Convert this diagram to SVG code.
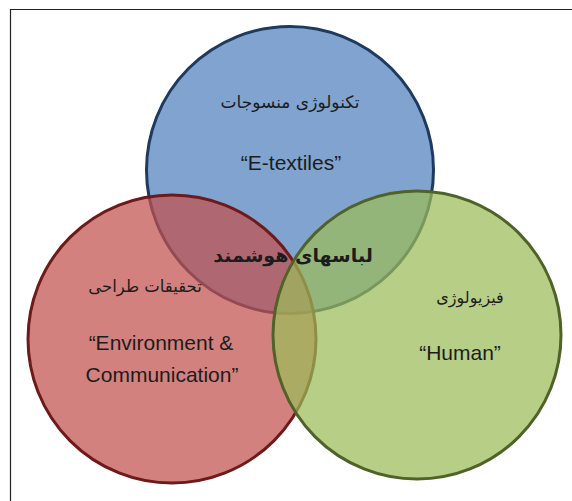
<svg xmlns="http://www.w3.org/2000/svg" width="572" height="501" viewBox="0 0 572 501">
<style>
.circ{fill-opacity:0.72;stroke-width:3}
.lat{font-family:"Liberation Sans","Open Sans",Arial,sans-serif;font-size:21px;fill:#1c1c1c;text-anchor:middle}
.fa{font-family:"DejaVu Sans","Noto Sans",sans-serif;font-size:17px;fill:#1c1c1c;text-anchor:middle}
</style>
<rect x="0" y="0" width="572" height="501" fill="#ffffff"/>
<path d="M10.5 501 V9.5 H572" fill="none" stroke="#222222" stroke-width="1.2"/>
<g id="node-etextiles">
<circle class="circ" cx="290" cy="170" r="143.5" fill="#4F81BD" stroke="#1F3A60"/>
</g>
<g id="node-environment">
<circle class="circ" cx="172" cy="339" r="144" fill="#C0504D" stroke="#6E1A1A"/>
</g>
<g id="node-human">
<circle class="circ" cx="417" cy="335" r="144" fill="#9BBB59" stroke="#4F6228"/>
</g>
<g id="connectors"></g>
<g id="labels">
<text class="fa" x="290" y="108" direction="rtl">تکنولوژی منسوجات</text>
<text class="lat" x="291" y="170">“E-textiles”</text>
<text class="fa" x="145" y="292" direction="rtl" style="font-size:16.5px">تحقیقات طراحی</text>
<text class="lat" x="161" y="350">“Environment &amp;</text>
<text class="lat" x="162" y="382">Communication”</text>
<text class="fa" x="470" y="303" direction="rtl" style="font-size:16px">فیزیولوژی</text>
<text class="lat" x="460" y="360">“Human”</text>
<text class="fa" x="293" y="262" direction="rtl" style="font-size:19px;font-weight:bold">لباسهای هوشمند</text>
</g>
</svg>
